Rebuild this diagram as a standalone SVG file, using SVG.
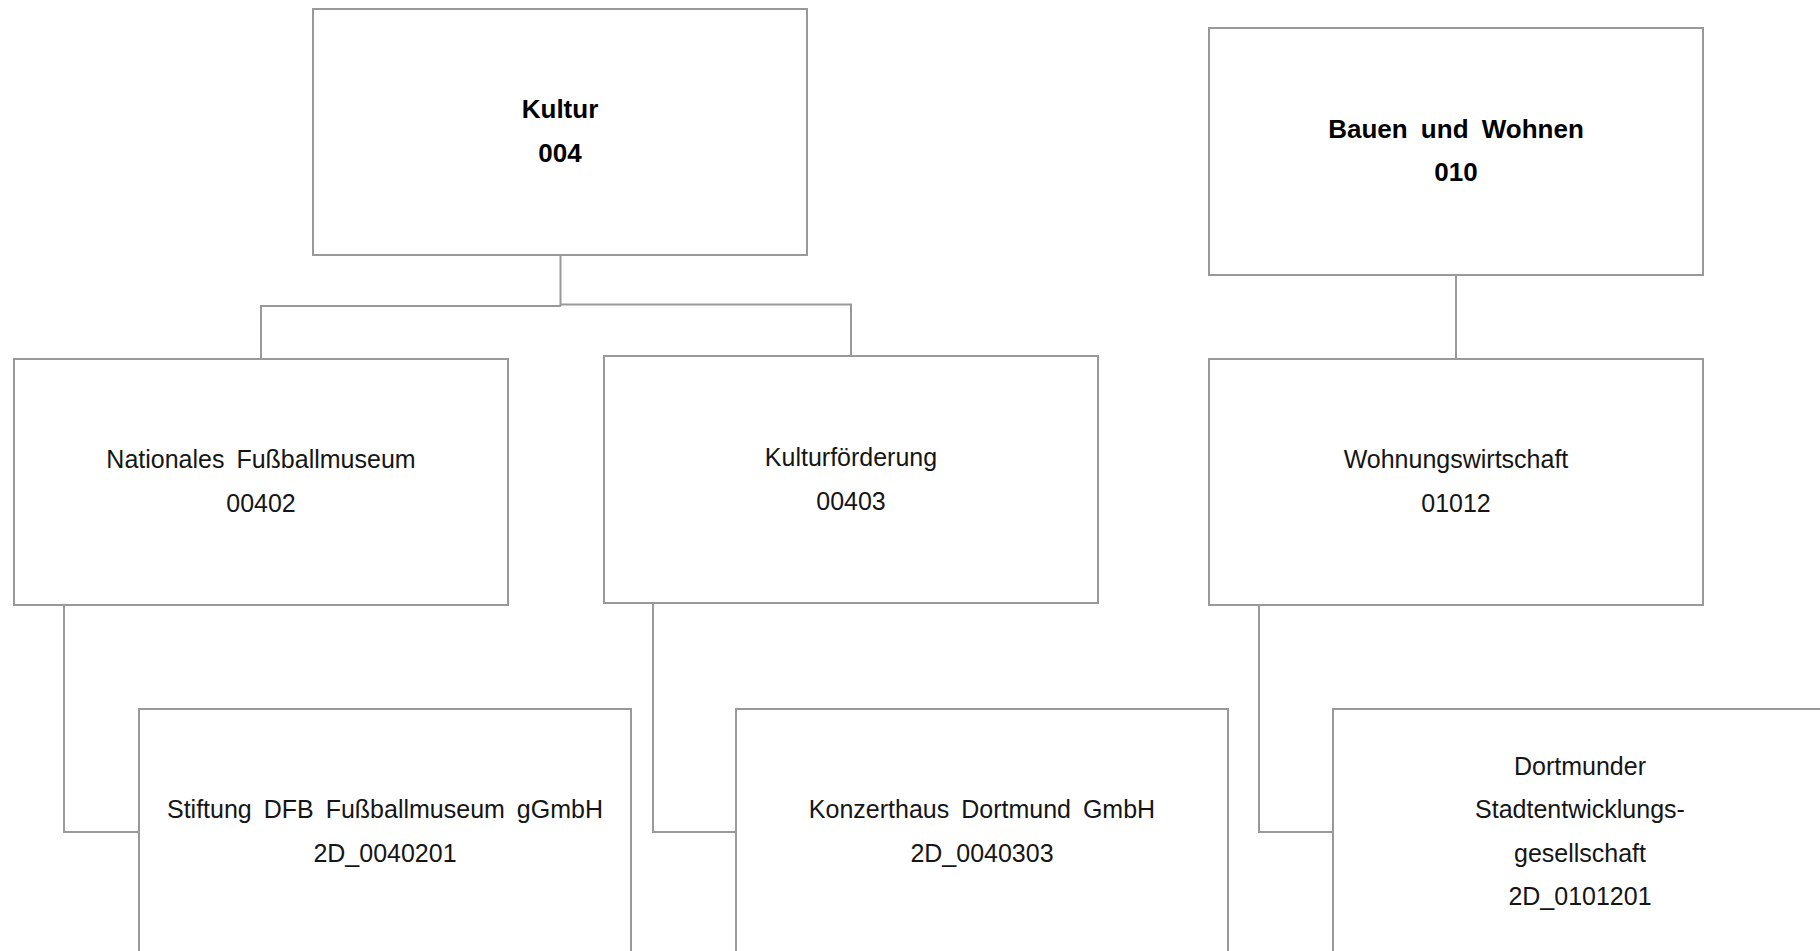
<svg xmlns="http://www.w3.org/2000/svg" width="1820" height="951" viewBox="0 0 1820 951">
<style>
.box{fill:#fff;stroke:#999;stroke-width:2}
.con{fill:none;stroke:#999;stroke-width:2}
.t{font-family:"Liberation Sans",Arial,sans-serif;font-size:25px;fill:#151515;text-anchor:middle;word-spacing:5px}
.b{font-family:"Liberation Sans",Arial,sans-serif;font-size:26px;font-weight:bold;fill:#000;text-anchor:middle;word-spacing:6px}
</style>
<rect width="1820" height="951" fill="#fff"/>
<g id="connectors">
<path class="con" d="M560.5,255 V306 M261,359 V306 H561 M560,304.5 H851 V356"/>
<path class="con" d="M1456,275 V359"/>
<path class="con" d="M64,605 V832 H139"/>
<path class="con" d="M653,603 V832 H736"/>
<path class="con" d="M1259,605 V832 H1333"/>
</g>
<g id="kultur">
<rect class="box" x="313" y="9" width="494" height="246"/>
<text class="b" x="560" y="118">Kultur</text>
<text class="b" x="560" y="162">004</text>
</g>
<g id="bauen">
<rect class="box" x="1209" y="28" width="494" height="247"/>
<text class="b" x="1456" y="138">Bauen und Wohnen</text>
<text class="b" x="1456" y="181">010</text>
</g>
<g id="fussballmuseum">
<rect class="box" x="14" y="359" width="494" height="246"/>
<text class="t" x="261" y="468">Nationales Fußballmuseum</text>
<text class="t" x="261" y="512">00402</text>
</g>
<g id="kulturfoerderung">
<rect class="box" x="604" y="356" width="494" height="247"/>
<text class="t" x="851" y="466">Kulturförderung</text>
<text class="t" x="851" y="510">00403</text>
</g>
<g id="wohnungswirtschaft">
<rect class="box" x="1209" y="359" width="494" height="246"/>
<text class="t" x="1456" y="468">Wohnungswirtschaft</text>
<text class="t" x="1456" y="512">01012</text>
</g>
<g id="stiftung">
<rect class="box" x="139" y="709" width="492" height="260"/>
<text class="t" x="385" y="818">Stiftung DFB Fußballmuseum gGmbH</text>
<text class="t" x="385" y="862">2D_0040201</text>
</g>
<g id="konzerthaus">
<rect class="box" x="736" y="709" width="492" height="260"/>
<text class="t" x="982" y="818">Konzerthaus Dortmund GmbH</text>
<text class="t" x="982" y="862">2D_0040303</text>
</g>
<g id="dsg">
<rect class="box" x="1333" y="709" width="492" height="260"/>
<text class="t" x="1580" y="775">Dortmunder</text>
<text class="t" x="1580" y="818">Stadtentwicklungs-</text>
<text class="t" x="1580" y="862">gesellschaft</text>
<text class="t" x="1580" y="905">2D_0101201</text>
</g>
</svg>
